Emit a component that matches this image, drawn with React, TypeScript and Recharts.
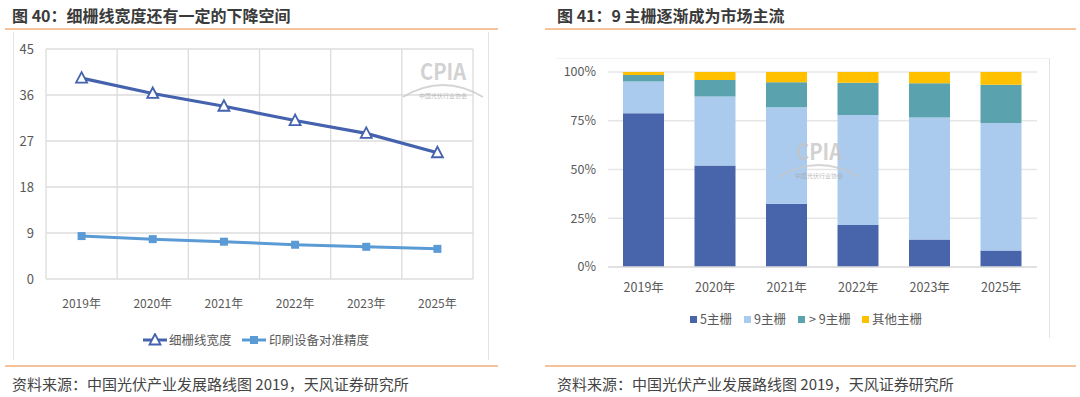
import React from "react";
import {
  ComposedChart,
  BarChart,
  Bar,
  Line,
  XAxis,
  YAxis,
  CartesianGrid,
} from "recharts";

const years = ["2019年", "2020年", "2021年", "2022年", "2023年", "2025年"];

// 图 40
const fingerWidth = [39.3, 36.3, 33.8, 31.0, 28.5, 24.7];
const printAccuracy = [8.4, 7.8, 7.3, 6.7, 6.3, 5.9];
const leftTicks = [0, 9, 18, 27, 36, 45];

// 图 41 (%)
const busbar5 = [78.8, 52.0, 32.4, 21.5, 14.1, 8.5];
const busbar9 = [16.3, 35.4, 49.5, 56.5, 62.6, 65.3];
const busbarOver9 = [3.4, 8.5, 12.8, 16.5, 17.5, 19.7];
const busbarOther = [1.5, 4.1, 5.3, 5.5, 5.8, 6.5];
const rightTicks = [0, 25, 50, 75, 100];

const FONT = '"Noto Sans CJK SC", "Noto Sans", sans-serif';
const TICK = "#595959";
const DARK_BLUE = "#4462ad";
const MID_BLUE = "#5b9bd5";
const ORANGE = "#f6c29a";

const lineData = years.map((year, i) => ({
  year,
  width: fingerWidth[i],
  accuracy: printAccuracy[i],
}));

const barData = years.map((year, i) => ({
  year,
  b5: busbar5[i],
  b9: busbar9[i],
  bOver9: busbarOver9[i],
  bOther: busbarOther[i],
}));

const Triangle = (props: any) => {
  const { cx, cy, index } = props;
  if (cx == null || cy == null) return null;
  return (
    <polygon
      key={index}
      points={`${cx},${cy - 6} ${cx - 5.5},${cy + 4.5} ${cx + 5.5},${cy + 4.5}`}
      fill="#fff"
      stroke={DARK_BLUE}
      strokeWidth={1.8}
    />
  );
};

const Square = (props: any) => {
  const { cx, cy, index } = props;
  if (cx == null || cy == null) return null;
  return <rect key={index} x={cx - 4} y={cy - 4} width={8} height={8} fill={MID_BLUE} />;
};

const Watermark = ({ cx, top }: { cx: number; top: number }) => (
  <g opacity={0.75}>
    <text
      x={cx}
      y={top + 23}
      textAnchor="middle"
      fontSize={22}
      fontWeight={700}
      fill="#c4c4c4"
      textLength={46}
      lengthAdjust="spacingAndGlyphs"
      fontFamily={FONT}
    >
      CPIA
    </text>
    <path
      d={`M ${cx - 40} ${top + 40} Q ${cx} ${top + 16} ${cx + 40} ${top + 40}`}
      fill="none"
      stroke="#c8c8c8"
      strokeWidth={2}
    />
    <text x={cx} y={top + 41} textAnchor="middle" fontSize={6} fill="#a8a8a8" fontFamily={FONT}>
      中国光伏行业协会
    </text>
  </g>
);

const legendText: React.CSSProperties = {
  position: "absolute",
  fontSize: 12.5,
  color: TICK,
  lineHeight: "16px",
  whiteSpace: "nowrap",
};

export default function App() {
  return (
    <div
      style={{
        position: "absolute",
        left: 0,
        top: 0,
        width: 1080,
        height: 397,
        background: "#fff",
        fontFamily: FONT,
        overflow: "hidden",
      }}
    >
      {/* titles */}
      <div style={{ position: "absolute", left: 12, top: 3, fontSize: 16, fontWeight: 700, color: "#3a3a3a" }}>
        图 40：细栅线宽度还有一定的下降空间
      </div>
      <div style={{ position: "absolute", left: 557, top: 3, fontSize: 16, fontWeight: 700, color: "#3a3a3a" }}>
        图 41：9 主栅逐渐成为市场主流
      </div>

      {/* orange rules */}
      <div style={{ position: "absolute", left: 5, top: 28, width: 493, height: 1.5, background: ORANGE }} />
      <div style={{ position: "absolute", left: 545, top: 28, width: 531, height: 1.5, background: ORANGE }} />
      <div style={{ position: "absolute", left: 5, top: 365, width: 493, height: 1.5, background: ORANGE }} />
      <div style={{ position: "absolute", left: 545, top: 365, width: 531, height: 1.5, background: ORANGE }} />

      {/* panel frames */}
      <div style={{ position: "absolute", left: 13, top: 32, width: 474, height: 328, borderLeft: "1px solid #e4e4e4", borderRight: "1px solid #e4e4e4" }} />
      <div style={{ position: "absolute", left: 556, top: 58, width: 493, height: 279, borderTop: "1px solid #f3f3f3", borderRight: "1px solid #e4e4e4" }} />

      {/* left chart */}
      <div style={{ position: "absolute", left: 0, top: 30 }}>
        <ComposedChart
          width={500}
          height={330}
          data={lineData}
          margin={{ top: 19, right: 27, left: 0, bottom: 51 }}
        >
          <CartesianGrid
            stroke="#dcdcdc"
            strokeWidth={1.3}
            verticalCoordinatesGenerator={({ offset }: any) =>
              years.map((_, i) => offset.left + (i * offset.width) / years.length).concat(offset.left + offset.width)
            }
          />
          <XAxis
            dataKey="year"
            scale="band"
            tickLine={false}
            axisLine={false}
            tick={{ fill: TICK, fontSize: 12 }}
            tickMargin={14}
            height={30}
            interval={0}
          />
          <YAxis
            domain={[0, 45]}
            ticks={leftTicks}
            tickLine={false}
            axisLine={false}
            tick={{ fill: TICK, fontSize: 13 }}
            tickMargin={6}
            width={46}
            interval={0}
          />
          <Line
            dataKey="accuracy"
            stroke={MID_BLUE}
            strokeWidth={3}
            dot={<Square />}
            activeDot={false}
            isAnimationActive={false}
          />
          <Line
            dataKey="width"
            stroke={DARK_BLUE}
            strokeWidth={3.2}
            dot={<Triangle />}
            activeDot={false}
            isAnimationActive={false}
          />
        </ComposedChart>
      </div>

      {/* right chart */}
      <div style={{ position: "absolute", left: 540, top: 30 }}>
        <BarChart
          width={530}
          height={330}
          data={barData}
          margin={{ top: 42, right: 33, left: 0, bottom: 63 }}
          barSize={41}
        >
          <CartesianGrid stroke="#e6e6e6" strokeWidth={1.3} vertical={false} />
          <XAxis
            dataKey="year"
            tickLine={false}
            axisLine={{ stroke: "#dedede", strokeWidth: 1.3 }}
            tick={{ fill: TICK, fontSize: 12.5 }}
            tickMargin={10}
            height={30}
            interval={0}
          />
          <YAxis
            domain={[0, 100]}
            ticks={rightTicks}
            tickFormatter={(v: number) => `${v}%`}
            tickLine={false}
            axisLine={false}
            tick={{ fill: TICK, fontSize: 12.5 }}
            tickMargin={6}
            width={68}
            interval={0}
          />
          <Bar dataKey="b5" stackId="s" fill="#4865ab" isAnimationActive={false} />
          <Bar dataKey="b9" stackId="s" fill="#aacbee" isAnimationActive={false} />
          <Bar dataKey="bOver9" stackId="s" fill="#5aa2ad" isAnimationActive={false} />
          <Bar dataKey="bOther" stackId="s" fill="#ffc000" isAnimationActive={false} />
        </BarChart>
      </div>

      {/* watermarks */}
      <svg style={{ position: "absolute", left: 0, top: 0 }} width={1080} height={397}>
        <Watermark cx={443} top={57} />
        <Watermark cx={819} top={137} />
      </svg>

      {/* left legend */}
      <svg style={{ position: "absolute", left: 143, top: 333 }} width={26} height={14}>
        <line x1={0} y1={7} x2={24} y2={7} stroke={DARK_BLUE} strokeWidth={3} />
        <polygon points="12,1 6.5,11.5 17.5,11.5" fill="#fff" stroke={DARK_BLUE} strokeWidth={1.8} />
      </svg>
      <div style={{ ...legendText, left: 169, top: 332 }}>细栅线宽度</div>
      <svg style={{ position: "absolute", left: 242, top: 333 }} width={26} height={14}>
        <line x1={0} y1={7} x2={24} y2={7} stroke={MID_BLUE} strokeWidth={3} />
        <rect x={8} y={3} width={8} height={8} fill={MID_BLUE} />
      </svg>
      <div style={{ ...legendText, left: 269, top: 332 }}>印刷设备对准精度</div>

      {/* right legend */}
      <div style={{ position: "absolute", left: 690, top: 316, width: 7, height: 7, background: "#4865ab" }} />
      <div style={{ ...legendText, left: 700, top: 311 }}>5主栅</div>
      <div style={{ position: "absolute", left: 744, top: 316, width: 7, height: 7, background: "#aacbee" }} />
      <div style={{ ...legendText, left: 754, top: 311 }}>9主栅</div>
      <div style={{ position: "absolute", left: 798, top: 316, width: 7, height: 7, background: "#5aa2ad" }} />
      <div style={{ ...legendText, left: 809, top: 311 }}>&gt; 9主栅</div>
      <div style={{ position: "absolute", left: 862, top: 316, width: 7, height: 7, background: "#ffc000" }} />
      <div style={{ ...legendText, left: 872, top: 311 }}>其他主栅</div>

      {/* sources */}
      <div style={{ position: "absolute", left: 12, top: 373, fontSize: 15, color: "#444", whiteSpace: "nowrap" }}>
        资料来源：中国光伏产业发展路线图 2019，天风证券研究所
      </div>
      <div style={{ position: "absolute", left: 557, top: 373, fontSize: 15, color: "#444", whiteSpace: "nowrap" }}>
        资料来源：中国光伏产业发展路线图 2019，天风证券研究所
      </div>
    </div>
  );
}
